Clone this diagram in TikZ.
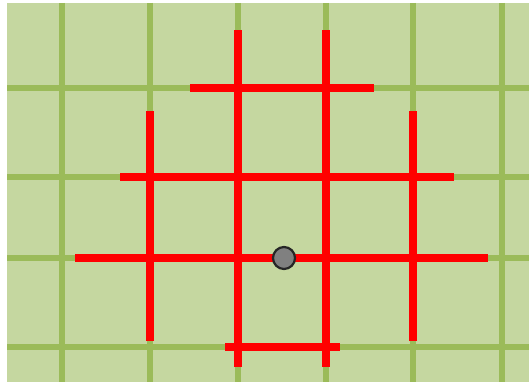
\documentclass[tikz,border=0pt]{standalone}
\usepackage{tikz}
\definecolor{fieldbg}{RGB}{197,215,160}
\definecolor{fieldline}{RGB}{155,187,89}
\definecolor{pathred}{RGB}{255,0,0}

\begin{document}
\begin{tikzpicture}[x=1pt,y=-1pt,
                  gline/.style={draw=fieldline,line width=6pt},
                  rline/.style={draw=pathred,line width=7.5pt},
                  dot/.style={circle,draw=black!85,line width=2.2pt,fill=gray,minimum size=22pt,inner sep=0pt}
                ]
                \useasboundingbox (0,0) rectangle (529,382);
                \fill[fieldbg] (7,3) rectangle (529,382);
                % field grid
                \foreach \x in {62,150,238,326,413,502}
                  \draw[gline] (\x,3) -- (\x,382);
                \foreach \y in {88,177,258,347}
                  \draw[gline] (7,\y) -- (529,\y);
                % red segments
                \draw[rline] (238,30) -- (238,367);
                \draw[rline] (326,30) -- (326,367);
                \draw[rline] (150,111) -- (150,341);
                \draw[rline] (413,111) -- (413,341);
                \draw[rline] (190,88) -- (374,88);
                \draw[rline] (120,177) -- (454,177);
                \draw[rline] (75,258) -- (488,258);
                \draw[rline] (225,347) -- (340,347);
                \node[dot] (centre) at (284,258) {};
                \end{tikzpicture}
\end{document}
